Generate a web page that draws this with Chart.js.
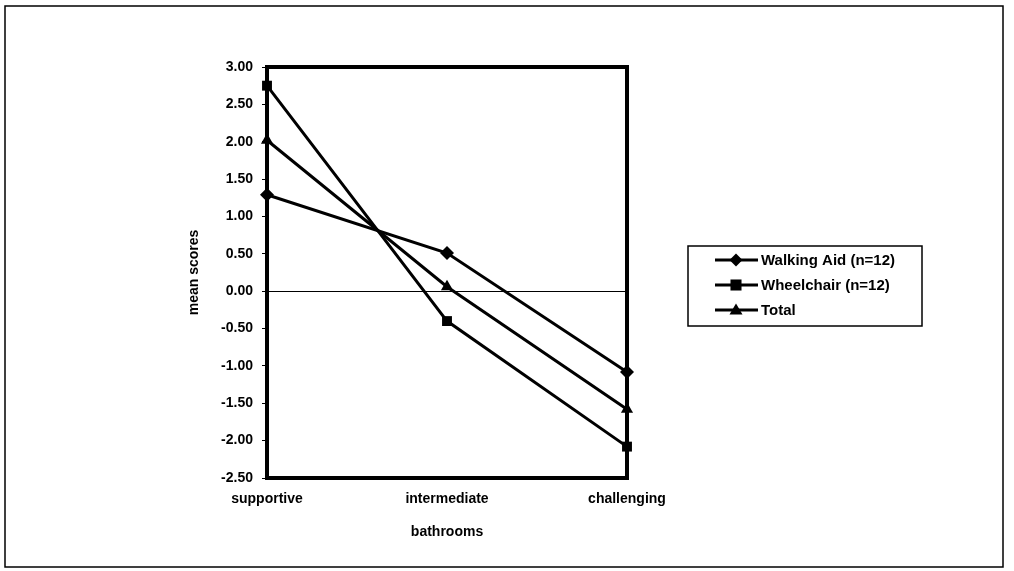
<!DOCTYPE html>
<html>
<head>
<meta charset="utf-8">
<script src="https://cdn.jsdelivr.net/npm/chart.js@4/dist/chart.umd.min.js"></script>
<style>
  html, body { margin: 0; padding: 0; background: #fff; }
  #wrap { width: 1014px; height: 571px; }
</style>
</head>
<body>
<div id="wrap"><canvas id="chart" width="1014" height="571"></canvas></div>
<script>
const categories = ['supportive', 'intermediate', 'challenging'];
const walkingAid = [1.29, 0.51, -1.08];
const wheelchair = [2.75, -0.40, -2.08];
const total = [2.02, 0.06, -1.58];
const seriesNames = ['Walking Aid (n=12)', 'Wheelchair (n=12)', 'Total'];
const markerStyles = ['rectRot', 'rect', 'triangle'];
const yMin = -2.5, yMax = 3.0, yStep = 0.5;

const FONT = '"Liberation Sans", Arial, sans-serif';

function drawMarker(ctx, style, x, y, r) {
    ctx.beginPath();
    if (style === 'rectRot') {
        ctx.moveTo(x, y - r); ctx.lineTo(x + r, y); ctx.lineTo(x, y + r); ctx.lineTo(x - r, y);
    } else if (style === 'rect') {
        ctx.rect(x - r * 0.85, y - r * 0.85, r * 1.7, r * 1.7);
    } else {
        ctx.moveTo(x, y - r); ctx.lineTo(x + r, y + r * 0.7); ctx.lineTo(x - r, y + r * 0.7);
    }
    ctx.closePath();
    ctx.fill();
}

// frame around the plot area and the outer page border
const framePlugin = {
    id: 'frame',
    beforeDatasetsDraw(chart) {
        const {ctx, chartArea: a} = chart;
        ctx.save();
        ctx.strokeStyle = '#000';
        ctx.lineWidth = 4;
        ctx.strokeRect(a.left, a.top, a.right - a.left, a.bottom - a.top);
        ctx.restore();
    },
    afterDraw(chart) {
        const ctx = chart.ctx;
        ctx.save();
        ctx.strokeStyle = '#000';
        ctx.lineWidth = 1.5;
        ctx.strokeRect(5, 6, 998, 561);
        ctx.restore();
    }
};

// boxed legend like the original
const boxLegend = {
    id: 'boxLegend',
    afterDraw(chart) {
        const ctx = chart.ctx;
        const bx = 688, by = 246, bw = 234, bh = 80;
        ctx.save();
        ctx.strokeStyle = '#000';
        ctx.lineWidth = 1.5;
        ctx.strokeRect(bx, by, bw, bh);
        ctx.fillStyle = '#000';
        ctx.font = 'bold 15px ' + FONT;
        ctx.textBaseline = 'middle';
        chart.data.datasets.forEach((ds, i) => {
            const y = by + 14 + i * 25;
            ctx.lineWidth = 3;
            ctx.beginPath();
            ctx.moveTo(715, y); ctx.lineTo(758, y);
            ctx.stroke();
            drawMarker(ctx, ds.pointStyle, 736, y, 6.5);
            ctx.fillText(ds.label, 761, y + 1);
        });
        ctx.restore();
    }
};

const seriesData = [walkingAid, wheelchair, total];

new Chart(document.getElementById('chart'), {
    type: 'line',
    data: {
        labels: categories,
        datasets: seriesData.map((d, i) => ({
            label: seriesNames[i],
            data: d,
            borderColor: '#000',
            backgroundColor: '#000',
            borderWidth: 3,
            pointStyle: markerStyles[i],
            pointRadius: 7,
            pointBorderWidth: 0,
            tension: 0,
            clip: false
        }))
    },
    options: {
        responsive: false,
        animation: false,
        layout: { padding: { left: 186, right: 387, top: 67, bottom: 30 } },
        plugins: { legend: { display: false }, tooltip: { enabled: false } },
        scales: {
            x: {
                offset: false,
                grid: { display: false },
                border: { display: false },
                ticks: { color: '#000', padding: 5, font: { family: FONT, size: 14, weight: 'bold' } },
                title: {
                    display: true, text: 'bathrooms', color: '#000',
                    font: { family: FONT, size: 14, weight: 'bold' },
                    padding: { top: 4, bottom: 0 }
                },
                afterFit(scale) { scale.height = 63; }
            },
            y: {
                min: yMin,
                max: yMax,
                border: { display: false },
                grid: {
                    color: c => (c.tick && c.tick.value === 0 ? '#000' : 'rgba(0,0,0,0)'),
                    tickColor: '#000',
                    tickLength: 5,
                    lineWidth: 1
                },
                ticks: {
                    stepSize: yStep,
                    color: '#000',
                    padding: 9,
                    font: { family: FONT, size: 14, weight: 'bold' },
                    callback: v => Number(v).toFixed(2)
                },
                title: {
                    display: true, text: 'mean scores', color: '#000',
                    font: { family: FONT, size: 14, weight: 'bold' },
                    padding: { top: 0, bottom: 4 }
                },
                afterFit(scale) { scale.width = 81; }
            }
        }
    },
    plugins: [framePlugin, boxLegend]
});
</script>
</body>
</html>
